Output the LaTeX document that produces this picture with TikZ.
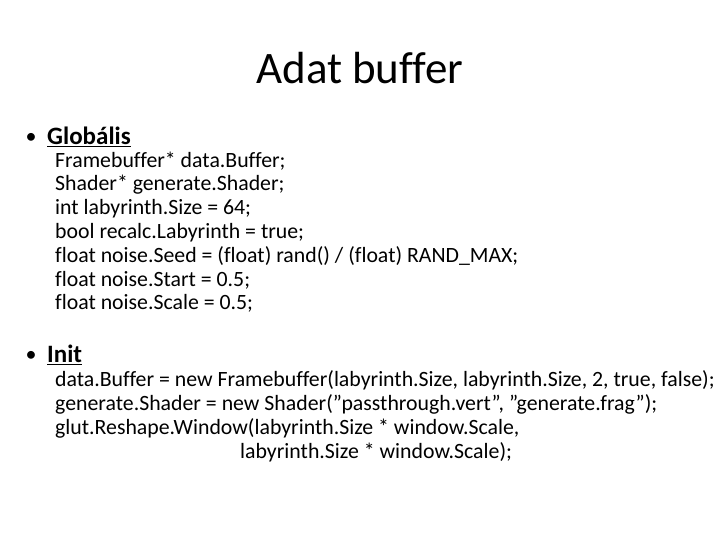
\documentclass[tikz,border=0pt]{standalone}
\usepackage{fontspec}
\setmainfont[Ligatures=NoCommon]{Carlito}
\newcommand{\dq}{\symbol{34}}
\begin{document}
\begin{tikzpicture}[x=1pt,y=-1pt,
  title/.style={anchor=center,font=\fontsize{45}{45}\selectfont},
  bul/.style={anchor=west,font=\fontsize{25}{25}\selectfont,inner sep=0pt},
  dot/.style={anchor=center,font=\fontsize{22}{22}\selectfont,inner sep=0pt},
  code/.style={anchor=west,font=\fontsize{21.8}{21.8}\selectfont,inner sep=0pt}]
\useasboundingbox (0,0) rectangle (720,540);
\node[title] (t) at (360,68) {Adat buffer};
\node[dot] (d1) at (31,138) {•};
\node[bul] (b1) at (47,137) {\textbf{\underline{Globális}}};
\foreach \i/\s in {0/{Framebuffer* data.Buffer;},1/{Shader* generate.Shader;},2/{int labyrinth.Size = 64;},3/{bool recalc.Labyrinth = true;},4/{float noise.Seed = (float) rand() / (float) RAND\_MAX;},5/{float noise.Start = 0.5;},6/{float noise.Scale = 0.5;}}
  \node[code] (g\i) at (55,{161+23.8*\i}) {\s};
\node[dot] (d2) at (31,356) {•};
\node[bul] (b2) at (47,355) {\textbf{\underline{Init}}};
\node[code] (i0) at (55,380) {data.Buffer = new Framebuffer(labyrinth.Size, labyrinth.Size, 2, true, false);};
\node[code] (i1) at (55,404) {generate.Shader = new Shader(\dq passthrough.vert\dq, \dq generate.frag\dq);};
\node[code] (i2) at (55,428) {glut.Reshape.Window(labyrinth.Size * window.Scale,};
\node[code] (i3) at (240,452) {labyrinth.Size * window.Scale);};
\end{tikzpicture}
\end{document}
